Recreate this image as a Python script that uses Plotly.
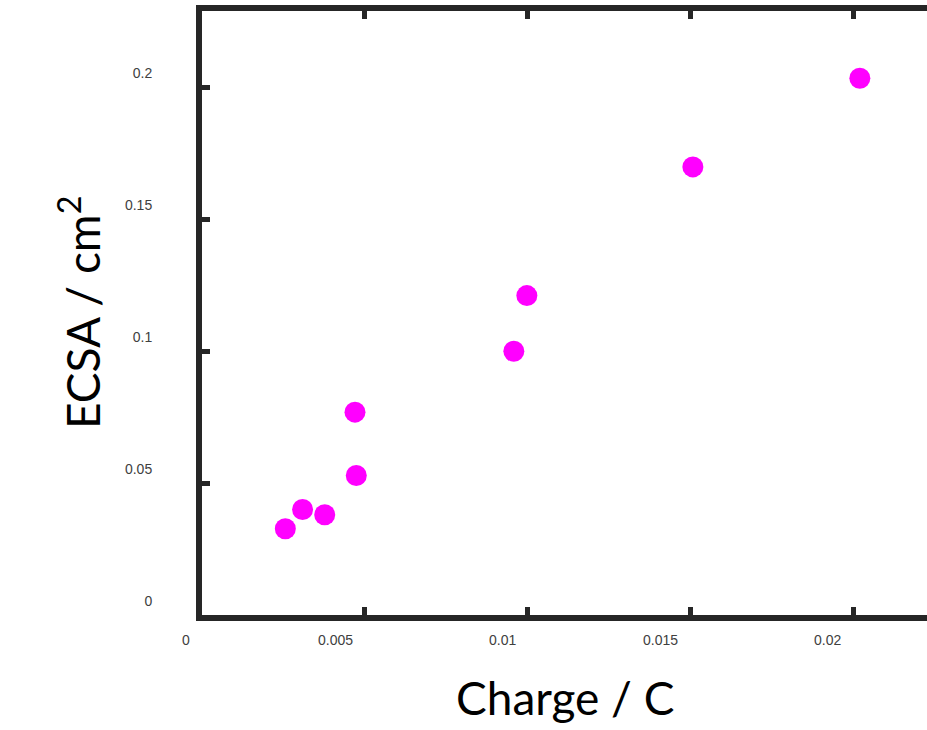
import plotly.graph_objects as go

# Data
charge = [0.00256, 0.00309, 0.00377, 0.00470, 0.00474, 0.00958, 0.00998, 0.01508, 0.02021]
ecsa = [0.0327, 0.0400, 0.0380, 0.0769, 0.0529, 0.1000, 0.1211, 0.1699, 0.2035]

x_tickvals = [0, 0.005, 0.01, 0.015, 0.02]
x_ticktext = ["0", "0.005", "0.01", "0.015", "0.02"]
y_tickvals = [0, 0.05, 0.1, 0.15, 0.2]
y_ticktext = ["0", "0.05", "0.1", "0.15", "0.2"]

axis_color = "#262626"
label_color = "#404040"

fig = go.Figure()
fig.add_trace(go.Scatter(
    x=charge, y=ecsa, mode="markers",
    marker=dict(color="#FF00FF", size=21, line=dict(width=0)),
    showlegend=False, hoverinfo="x+y",
))

fig.update_xaxes(
    range=[0, 0.022273],
    showgrid=False, zeroline=False,
    showline=True, linewidth=6, linecolor=axis_color, mirror="ticks",
    ticks="inside", ticklen=8, tickwidth=5, tickcolor=axis_color,
    tickvals=x_tickvals, showticklabels=False,
)
fig.update_yaxes(
    range=[0, 0.2290],
    showgrid=False, zeroline=False,
    showline=True, linewidth=6, linecolor=axis_color, mirror=False,
    ticks="inside", ticklen=8, tickwidth=5, tickcolor=axis_color,
    tickvals=y_tickvals, ticktext=y_ticktext,
    tickfont=dict(family="Liberation Sans, Arial, sans-serif", size=14, color=label_color),
    ticklabelshift=-14, ticklabelstandoff=41,
)

# x tick labels, right-anchored just left of each tick
for v, t in zip(x_tickvals, x_ticktext):
    fig.add_annotation(
        x=v, y=0, xref="x", yref="paper", text=t, showarrow=False,
        xanchor="right", yanchor="middle", xshift=-10, yshift=-25,
        font=dict(family="Liberation Sans, Arial, sans-serif", size=14, color=label_color),
    )

# axis titles
fig.add_annotation(
    x=0.5, y=0, xref="paper", yref="paper", text="Charge / C", showarrow=False,
    xanchor="center", yanchor="middle", yshift=-82,
    font=dict(family="Lato, Carlito, sans-serif", size=46, color="#000000"),
)
fig.add_annotation(
    x=0, y=0.5, xref="paper", yref="paper", text="ECSA / cm<sup>2</sup>", showarrow=False,
    xanchor="center", yanchor="middle", xshift=-123, textangle=-90,
    font=dict(family="Lato, Carlito, sans-serif", size=46, color="#000000"),
)

fig.update_layout(
    width=927, height=730,
    margin=dict(l=202, r=0, t=11, b=115),
    paper_bgcolor="white", plot_bgcolor="white",
)

fig.write_html(
    "out.html",
    config={"displayModeBar": False},
    post_script="document.body.style.margin='0';document.body.style.padding='0';",
)
